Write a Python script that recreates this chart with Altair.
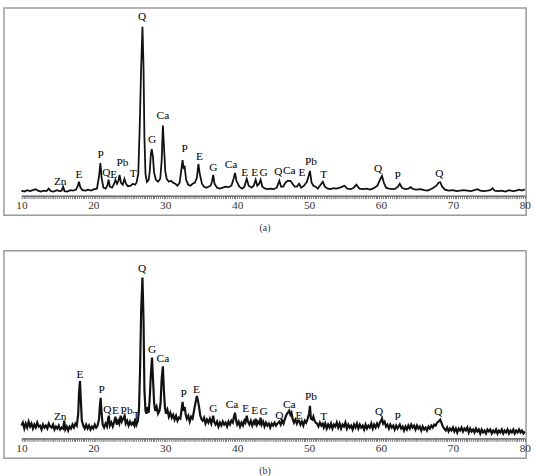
import altair as alt
import pandas as pd

# ---------------- data ----------------
# Panel (a): 2theta (deg) and intensity (a.u.)
theta_a = [10.0, 10.4, 10.8, 11.2, 11.6, 12.0, 12.3, 12.7, 13.1, 13.5, 13.8, 14.1, 14.5, 14.9, 15.3, 15.6, 15.8, 16.0,
           16.4, 16.8, 17.2, 17.6, 17.85, 18.0, 18.2, 18.5, 18.9, 19.3, 19.7, 20.1, 20.5, 20.8, 20.98, 21.15, 21.4,
           21.7, 21.95, 22.12, 22.3, 22.6, 22.9, 23.08, 23.3, 23.5, 23.65, 23.85, 24.1, 24.32, 24.55, 24.8, 25.2,
           25.5, 25.8, 26.0, 26.25, 26.45, 26.65, 26.83, 26.98, 27.1, 27.25, 27.45, 27.7, 27.85, 28.0, 28.12, 28.28,
           28.45, 28.7, 29.0, 29.3, 29.5, 29.67, 29.82, 30.0, 30.2, 30.5, 30.8, 31.1, 31.4, 31.7, 32.0, 32.25, 32.41,
           32.55, 32.7, 32.9, 33.2, 33.5, 33.8, 34.1, 34.4, 34.61, 34.8, 35.1, 35.4, 35.7, 36.0, 36.3, 36.5, 36.67,
           36.85, 37.2, 37.6, 38.0, 38.4, 38.8, 39.2, 39.5, 39.7, 39.9, 40.3, 40.7, 41.0, 41.2, 41.33, 41.6, 42.0,
           42.3, 42.57, 42.8, 43.05, 43.26, 43.5, 43.9, 44.3, 44.7, 45.1, 45.5, 45.86, 46.1, 46.4, 46.7, 47.0, 47.4,
           47.7, 48.0, 48.3, 48.61, 48.9, 49.3, 49.7, 49.95, 50.12, 50.35, 50.6, 50.9, 51.2, 51.6, 51.9, 52.2, 52.6,
           53.0, 53.4, 53.8, 54.3, 54.92, 55.3, 55.8, 56.2, 56.57, 57.0, 57.5, 58.0, 58.5, 59.0, 59.5, 59.85, 60.14,
           60.4, 60.7, 61.1, 61.6, 62.0, 62.35, 62.61, 62.9, 63.3, 63.8, 64.12, 64.5, 65.0, 65.5, 66.0, 66.5, 66.9,
           67.3, 67.7, 68.0, 68.24, 68.5, 68.9, 69.4, 70.0, 70.5, 71.0, 71.5, 72.0, 72.5, 73.0, 73.4, 73.8, 74.3,
           74.8, 75.2, 75.51, 75.8, 76.3, 76.8, 77.3, 77.8, 78.3, 78.8, 79.2, 79.6, 80.0]
inten_a = [250, 240, 255, 245, 255, 265, 250, 240, 250, 245, 270, 245, 240, 255, 245, 250, 290, 245,
           240, 255, 250, 260, 300, 340, 280, 255, 250, 260, 250, 265, 270, 400, 530, 380, 280,
           270, 300, 360, 290, 280, 320, 360, 320, 350, 410, 330, 310, 370, 320, 295, 300,
           320, 310, 330, 420, 900, 1500, 1910, 1500, 800, 420, 340, 360, 450, 620, 670, 600,
           430, 360, 340, 370, 550, 910, 700, 450, 370, 340, 350, 330, 320, 300, 330, 470, 560,
           480, 490, 360, 310, 300, 320, 330, 380, 520, 420, 320, 290, 280, 290, 300, 340, 410,
           320, 280, 270, 280, 290, 285, 300, 370, 430, 350, 290, 270, 290, 340, 370, 300, 280,
           300, 360, 300, 320, 360, 290, 270, 265, 270, 265, 280, 350, 290, 290, 330, 350, 350,
           320, 290, 290, 320, 280, 300, 340, 400, 450, 330, 300, 290, 270, 310, 340, 290, 270,
           265, 275, 270, 280, 300, 270, 265, 280, 310, 270, 265, 270, 260, 275, 300, 360, 400,
           330, 280, 270, 265, 270, 290, 320, 280, 265, 270, 285, 265, 260, 265, 255, 250, 265,
           280, 300, 330, 335, 290, 260, 250, 255, 245, 250, 255, 250, 245, 255, 265, 250, 245,
           250, 255, 275, 250, 245, 250, 240, 255, 245, 250, 260, 250, 265]

# Panel (b)
theta_b = [10.0, 10.2, 10.4, 10.6, 10.8, 11.0, 11.2, 11.4, 11.6, 11.8, 12.0, 12.2, 12.4, 12.6, 12.8, 13.0, 13.2, 13.4,
           13.6, 13.8, 14.0, 14.2, 14.4, 14.6, 14.8, 15.0, 15.2, 15.4, 15.6, 15.8, 15.95, 16.1, 16.3, 16.5, 16.7,
           16.9, 17.1, 17.3, 17.5, 17.7, 17.9, 18.0, 18.14, 18.28, 18.4, 18.6, 18.8, 19.0, 19.2, 19.4, 19.6, 19.8,
           20.0, 20.2, 20.4, 20.6, 20.8, 20.9, 21.02, 21.15, 21.3, 21.5, 21.7, 21.9, 22.05, 22.15, 22.3, 22.5, 22.7,
           22.9, 23.08, 23.25, 23.45, 23.6, 23.8, 23.95, 24.15, 24.35, 24.5, 24.7, 24.9, 25.1, 25.3, 25.5, 25.7,
           25.83, 26.0, 26.2, 26.35, 26.5, 26.65, 26.83, 26.98, 27.1, 27.25, 27.4, 27.55, 27.7, 27.85, 28.0, 28.16,
           28.3, 28.45, 28.6, 28.8, 29.0, 29.2, 29.35, 29.5, 29.67, 29.8, 29.95, 30.1, 30.3, 30.5, 30.7, 30.9, 31.1,
           31.3, 31.5, 31.7, 31.9, 32.1, 32.25, 32.41, 32.55, 32.7, 32.85, 33.0, 33.2, 33.4, 33.6, 33.8, 34.0, 34.2,
           34.4, 34.55, 34.7, 34.85, 35.0, 35.2, 35.4, 35.6, 35.8, 36.0, 36.2, 36.4, 36.55, 36.67, 36.8, 37.0, 37.2,
           37.4, 37.6, 37.8, 38.0, 38.2, 38.4, 38.6, 38.8, 39.0, 39.2, 39.4, 39.55, 39.7, 39.85, 40.0, 40.2, 40.4,
           40.6, 40.8, 41.0, 41.15, 41.33, 41.5, 41.7, 41.9, 42.1, 42.3, 42.45, 42.57, 42.75, 42.9, 43.1, 43.26,
           43.4, 43.6, 43.8, 44.0, 44.2, 44.4, 44.6, 44.8, 45.0, 45.2, 45.4, 45.6, 45.86, 46.05, 46.25, 46.45, 46.65,
           46.85, 47.05, 47.24, 47.4, 47.55, 47.7, 47.9, 48.1, 48.3, 48.45, 48.61, 48.8, 49.0, 49.2, 49.4, 49.6,
           49.8, 50.0, 50.12, 50.25, 50.45, 50.6, 50.75, 50.9, 51.1, 51.3, 51.5, 51.7, 51.9, 52.05, 52.25, 52.45,
           52.65, 52.85, 53.05, 53.25, 53.45, 53.65, 53.85, 54.05, 54.25, 54.45, 54.65, 54.85, 55.05, 55.25, 55.45,
           55.65, 55.85, 56.05, 56.25, 56.45, 56.65, 56.85, 57.05, 57.25, 57.45, 57.65, 57.85, 58.05, 58.25, 58.45,
           58.65, 58.85, 59.05, 59.25, 59.45, 59.65, 59.85, 60.0, 60.14, 60.3, 60.5, 60.7, 60.9, 61.1, 61.3, 61.5,
           61.7, 61.9, 62.1, 62.3, 62.45, 62.61, 62.8, 63.0, 63.2, 63.4, 63.6, 63.8, 64.0, 64.2, 64.4, 64.6, 64.8,
           65.0, 65.2, 65.4, 65.6, 65.8, 66.0, 66.2, 66.4, 66.6, 66.8, 67.0, 67.2, 67.4, 67.6, 67.8, 68.0, 68.24,
           68.4, 68.6, 68.8, 69.0, 69.2, 69.4, 69.6, 69.8, 70.0, 70.2, 70.4, 70.6, 70.8, 71.0, 71.2, 71.4, 71.6,
           71.8, 72.0, 72.2, 72.4, 72.6, 72.8, 73.0, 73.2, 73.4, 73.6, 73.8, 74.0, 74.2, 74.4, 74.6, 74.8, 75.0,
           75.2, 75.4, 75.6, 75.8, 76.0, 76.2, 76.4, 76.6, 76.8, 77.0, 77.2, 77.4, 77.6, 77.8, 78.0, 78.2, 78.4,
           78.6, 78.8, 79.0, 79.2, 79.4, 79.6, 79.8, 80.0]
inten_b = [330, 360, 300, 350, 310, 370, 320, 350, 300, 340, 310, 360, 320, 330, 290, 340, 310, 330,
           300, 350, 320, 310, 340, 290, 320, 300, 330, 290, 310, 300, 380, 290, 320, 280, 320,
           300, 340, 310, 350, 330, 450, 650, 780, 560, 380, 330, 300, 340, 300, 330, 290, 320,
           300, 340, 310, 330, 400, 520, 610, 450, 340, 310, 350, 320, 400, 430, 330, 360, 320,
           370, 420, 340, 380, 350, 430, 370, 400, 430, 350, 380, 330, 370, 340, 360, 330,
           400, 340, 380, 500, 900, 1500, 1830, 1400, 700, 480, 450, 520, 460, 620, 850, 1020,
           800, 560, 480, 520, 450, 480, 560, 800, 930, 700, 520, 450, 490, 420, 460, 410, 440,
           390, 430, 380, 410, 400, 480, 570, 480, 520, 440, 400, 430, 370, 420, 400, 480, 560,
           630, 580, 520, 440, 400, 380, 410, 350, 390, 360, 400, 350, 390, 430, 370, 340, 370,
           320, 360, 330, 370, 340, 360, 320, 370, 340, 380, 360, 420, 460, 380, 340, 370, 320,
           360, 330, 380, 360, 430, 370, 340, 380, 330, 370, 350, 400, 340, 370, 350, 410,
           340, 370, 320, 360, 330, 350, 310, 350, 330, 360, 330, 350, 370, 340, 380, 350, 400,
           440, 460, 480, 440, 460, 400, 360, 390, 350, 380, 380, 340, 370, 330, 380, 360,
           400, 450, 530, 400, 390, 420, 380, 360, 350, 320, 360, 330, 350, 310, 350, 300,
           340, 310, 350, 300, 340, 320, 360, 310, 350, 300, 340, 320, 360, 300, 340,
           310, 330, 290, 340, 310, 350, 300, 340, 310, 330, 290, 340, 300, 330, 310,
           350, 300, 340, 310, 350, 320, 360, 380, 400, 350, 370, 320, 340, 300, 340, 310,
           330, 290, 330, 300, 320, 340, 300, 320, 280, 320, 290, 330, 300, 340, 310, 330, 290,
           330, 300, 320, 280, 320, 290, 310, 280, 320, 300, 330, 310, 340, 330, 360, 370, 390,
           360, 320, 300, 280, 310, 270, 300, 280, 310, 270, 300, 260, 300, 280, 310, 270, 300,
           280, 310, 260, 300, 270, 290, 260, 300, 270, 290, 250, 290, 260, 280, 250, 290, 270,
           290, 250, 280, 260, 290, 250, 280, 260, 290, 250, 280, 260, 290, 250, 280, 260, 290,
           250, 280, 260, 290, 260, 280, 250, 270]

# Phase labels (text, 2theta, intensity of the label)
lab_a = ["Zn", "E", "P", "Q", "E", "Pb", "T", "Q", "G", "Ca", "P", "E", "G", "Ca", "E", "E", "G",
         "Q", "Ca", "E", "Pb", "T", "Q", "P", "Q"]
lab_a_x = [15.39, 18.00, 21.02, 21.80, 22.85, 24.05, 25.55, 26.79, 28.16, 29.67, 32.69, 34.75, 36.67,
           39.14, 41.06, 42.43, 43.67, 45.73, 47.24, 49.02, 50.26, 52.04, 59.59, 62.33, 68.10]
lab_a_y = [340, 410, 610, 430, 410, 525, 420, 2010, 760, 1010, 670, 590, 480,
           510, 430, 430, 430, 440, 450, 430, 540, 410, 470, 400, 420]

lab_b = ["Zn", "E", "P", "Q", "E", "Pb", "T", "Q", "G", "Ca", "P", "E", "G", "Ca", "E", "E", "G",
         "Q", "Ca", "E", "Pb", "T", "Q", "P", "Q"]
lab_b_x = [15.39, 18.14, 21.16, 21.95, 23.08, 24.62, 25.98, 26.79, 28.16, 29.67, 32.55, 34.34, 36.67,
           39.28, 41.20, 42.43, 43.67, 45.86, 47.24, 48.61, 50.26, 52.04, 59.72, 62.33, 67.96]
lab_b_y = [420, 840, 690, 490, 480, 480, 430, 1920, 1100, 1000, 650, 690, 500,
           540, 500, 480, 470, 430, 540, 430, 620, 420, 470, 420, 470]

panel_titles = ["(a)", "(b)"]
x_ticks = [10 + 0.25 * i for i in range(281)]

FONT = "Liberation Serif"


def panel(tt, ii, lt, lx, ly, title, lw):
    line_df = pd.DataFrame({"theta": tt, "I": ii})
    lab_df = pd.DataFrame({"label": lt, "theta": lx, "I": ly})
    xaxis = alt.Axis(
        orient="bottom", offset=-20, values=x_ticks, title=None, grid=False,
        labelExpr="(round(datum.value * 4) % 40 == 0) ? format(datum.value, 'd') : ''",
        domainColor="#555", domainWidth=1.2, tickColor="#777", tickSize=3, tickWidth=1,
        labelFont=FONT, labelFontSize=11.5, labelColor="#333", labelPadding=1,
        labelOverlap=False, labelFlush=False, labelBound=False,
    )
    xscale = alt.Scale(domain=[10, 80], range=[17.7, 527.7], nice=False, zero=False)
    yscale = alt.Scale(domain=[0, 2100], nice=False, zero=False)
    line = alt.Chart(line_df).mark_line(color="#111", strokeWidth=lw).encode(
        x=alt.X("theta:Q", scale=xscale, axis=xaxis),
        y=alt.Y("I:Q", scale=yscale, axis=None),
    )
    text = alt.Chart(lab_df).mark_text(
        font=FONT, fontSize=11.5, color="black", align="center", baseline="middle"
    ).encode(
        x=alt.X("theta:Q", scale=xscale, axis=xaxis),
        y=alt.Y("I:Q", scale=yscale, axis=None),
        text="label:N",
    )
    return alt.layer(line, text).properties(
        width=529, height=210,
        title=alt.TitleParams(title, orient="bottom", offset=8, fontSize=10, font=FONT,
                              fontWeight="normal", color="#333"),
    )


pa = panel(theta_a, inten_a, lab_a, lab_a_x, lab_a_y, panel_titles[0], 1.8)
pb = panel(theta_b, inten_b, lab_b, lab_b_x, lab_b_y, panel_titles[1], 2.2)

chart = (
    alt.vconcat(pa, pb, spacing=16)
    .properties(padding={"left": 3, "top": 4, "right": 3, "bottom": 0}, background="white")
    .configure_view(stroke="#9a9a9a", strokeWidth=1.5)
)

chart.save("out.html", embed_options={"renderer": "svg", "actions": False})
